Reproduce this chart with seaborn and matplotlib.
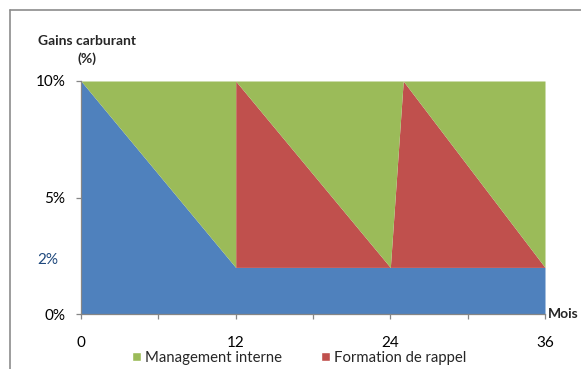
import matplotlib
matplotlib.use("Agg")
import matplotlib.pyplot as plt
import seaborn as sns
from matplotlib.lines import Line2D
from matplotlib.patches import Patch

# ---- data ----
mois = [0, 12, 12, 24, 25, 36]
base = [10, 2, 2, 2, 2, 2]             # blue
rappel = [0, 0, 8, 0, 8, 0]            # red: Formation de rappel
management = [0, 8, 0, 8, 0, 8]        # green: Management interne
xticks_major = [0, 12, 24, 36]
xticks_minor = [6, 18, 30]
yticks = [0, 5, 10]
ytick_labels = ["0%", "5%", "10%"]

sns.set_theme(style="white")
plt.rcParams['font.family'] = ['Lato', 'DejaVu Sans']

W, H = 581, 369
fig = plt.figure(figsize=(W / 100, H / 100), dpi=100)
ax = fig.add_axes([81 / W, (H - 314) / H, (545 - 81) / W, (314 - 81) / H])

blue, red, green = "#4F81BD", "#C0504D", "#9BBB59"
ax.stackplot(mois, base, rappel, management, colors=[blue, red, green],
             linewidth=0, antialiased=True)

ax.set_xlim(0, 36)
ax.set_ylim(0, 10)
ax.margins(0)

grey = "#868686"
for s in ["top", "right"]:
    ax.spines[s].set_visible(False)
for s in ["left", "bottom"]:
    ax.spines[s].set_color(grey)
    ax.spines[s].set_linewidth(0.9)

ax.set_xticks(xticks_major)
ax.set_xticks(xticks_minor, minor=True)
ax.set_xticklabels([str(v) for v in xticks_major])
ax.set_yticks(yticks)
ax.set_yticklabels(ytick_labels)
ax.tick_params(axis="x", which="both", direction="out", length=3.6, color=grey,
               width=0.9, bottom=True, pad=12, labelsize=11, labelcolor="black")
ax.tick_params(axis="y", direction="out", length=3.6, color=grey, width=0.9,
               left=True, pad=7.5, labelsize=11, labelcolor="black")

# 2% label
ax.text(58 / W, (H - 260) / H, "2%", transform=fig.transFigure, ha="right",
        va="center", fontsize=11, color="#1F497D")

# axis titles
fig.text(87 / W, (H - 41) / H, "Gains carburant", ha="center", va="center",
         fontsize=10, fontweight="bold")
fig.text(87 / W, (H - 59) / H, "(%)", ha="center", va="center",
         fontsize=10, fontweight="bold")
fig.text(548 / W, (H - 314) / H, "Mois", ha="left", va="center",
         fontsize=10, fontweight="bold")

# legend
handles = [Patch(facecolor=green, label="Management interne"),
           Patch(facecolor=red, label="Formation de rappel")]
fig.legend(handles=handles, loc="center", bbox_to_anchor=(299 / W, (H - 358) / H),
           ncol=2, frameon=False, fontsize=10.7, handlelength=0.6, handleheight=0.6,
           handletextpad=0.3, columnspacing=2.6)

# outer chart frame
fig.add_artist(Line2D([10 / W, 1], [(H - 9.5) / H] * 2, transform=fig.transFigure,
                      color="#8c8c8c", lw=1.2))
fig.add_artist(Line2D([10 / W] * 2, [0, (H - 9.5) / H], transform=fig.transFigure,
                      color="#8c8c8c", lw=1.2))

fig.savefig("out.png", dpi=100)
